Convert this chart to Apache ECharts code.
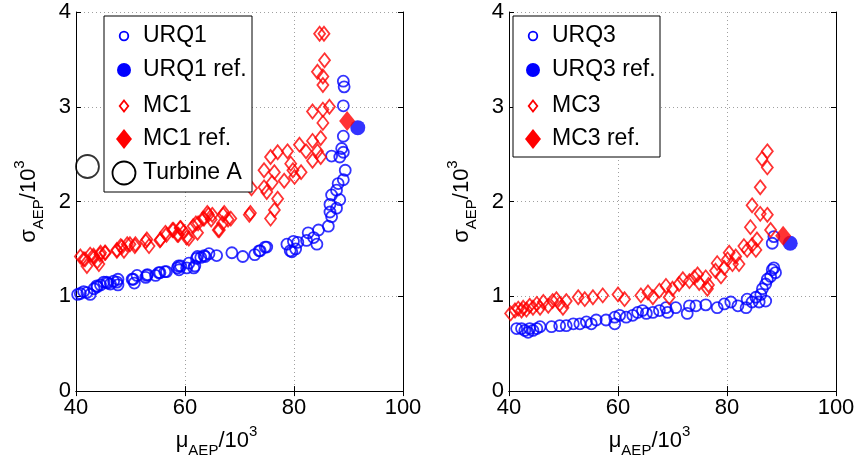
<!DOCTYPE html>
<html>
<head>
<meta charset="utf-8">
<script src="https://cdn.jsdelivr.net/npm/echarts@6/dist/echarts.min.js"></script>
<style>
  html, body { margin: 0; padding: 0; background: #fff; }
  #chart { width: 859px; height: 463px; }
</style>
</head>
<body>
<div id="chart"></div>
<script>
// tick values
var xTicks = [40, 60, 80, 100];
var yTicks = [0, 1, 2, 3, 4];

// left panel: [mu_AEP/10^3, sigma_AEP/10^3]
var urq1 = [
  [40.3, 1.02], [40.8, 1.03], [41.4, 1.05], [42.0, 1.04], [42.6, 1.02], [43.3, 1.08], [43.8, 1.11],
  [43.9, 1.10], [44.5, 1.12], [45.1, 1.15], [45.6, 1.15], [45.8, 1.14], [46.3, 1.13], [46.9, 1.16],
  [47.5, 1.15], [47.7, 1.18], [47.7, 1.12], [50.3, 1.18], [50.5, 1.18], [50.7, 1.14], [51.2, 1.22],
  [52.8, 1.20], [53.0, 1.22], [53.1, 1.23], [54.6, 1.22], [55.2, 1.25], [55.4, 1.25], [56.3, 1.26],
  [56.6, 1.26], [58.6, 1.30], [58.8, 1.32], [58.9, 1.28], [59.2, 1.32], [60.3, 1.30], [60.7, 1.35],
  [61.6, 1.30], [61.8, 1.32], [62.1, 1.40], [62.3, 1.42], [62.9, 1.41], [63.5, 1.43], [63.7, 1.42],
  [64.4, 1.45], [65.8, 1.43], [68.6, 1.46], [70.6, 1.42], [72.8, 1.44], [73.6, 1.48], [73.8, 1.48],
  [74.7, 1.52], [75.0, 1.52], [78.7, 1.55], [79.3, 1.48], [79.6, 1.47], [79.9, 1.58], [80.3, 1.50],
  [80.7, 1.57], [82.3, 1.59], [82.6, 1.67], [83.6, 1.62], [84.2, 1.55], [84.5, 1.70], [86.3, 1.74],
  [86.6, 1.89], [86.9, 1.84], [86.6, 1.97], [87.8, 1.93], [86.9, 2.07], [88.4, 2.02], [87.8, 2.12],
  [88.1, 2.19], [89.05, 2.23], [89.4, 2.33], [86.9, 2.48], [88.4, 2.47], [88.75, 2.56], [89.05, 2.52],
  [89.05, 2.69], [89.05, 3.01], [89.2, 3.21], [89.05, 3.27]
];
var urq1Ref = [[91.7, 2.78]];
var mc1 = [
  [40.8, 1.42], [41.4, 1.39], [41.65, 1.39], [42.0, 1.32], [42.6, 1.44], [43.2, 1.43], [43.3, 1.41],
  [43.9, 1.37], [44.4, 1.44], [44.5, 1.46], [45.3, 1.46], [44.2, 1.34], [45.4, 1.46], [47.5, 1.48],
  [47.5, 1.49], [48.2, 1.53], [48.4, 1.52], [48.8, 1.48], [49.4, 1.55], [49.9, 1.55], [50.8, 1.53],
  [50.9, 1.55], [52.8, 1.58], [53.0, 1.60], [53.4, 1.53], [55.4, 1.59], [55.5, 1.60], [56.4, 1.67],
  [56.6, 1.65], [57.7, 1.70], [57.9, 1.70], [58.6, 1.65], [58.8, 1.65], [59.1, 1.72], [59.2, 1.72],
  [59.8, 1.68], [60.3, 1.62], [60.7, 1.61], [61.5, 1.74], [62.0, 1.77], [62.3, 1.67], [62.4, 1.77],
  [63.3, 1.82], [63.5, 1.82], [64.1, 1.88], [64.3, 1.86], [64.8, 1.81], [65.0, 1.86], [66.1, 1.70],
  [66.3, 1.70], [66.9, 1.77], [67.0, 1.86], [67.2, 1.88], [67.9, 1.81], [68.4, 1.82], [71.8, 1.86],
  [72.0, 1.88], [72.2, 2.14], [74.5, 2.15], [74.5, 2.33], [75.0, 2.10], [75.7, 1.82], [76.4, 1.91],
  [77.0, 2.03], [75.7, 2.47], [77.0, 2.52], [76.4, 2.31], [76.0, 2.20], [78.2, 2.22], [78.8, 2.53],
  [79.4, 2.40], [79.8, 2.33], [80.1, 2.26], [81.0, 2.60], [81.3, 2.31], [82.2, 2.53], [83.4, 2.64],
  [83.4, 2.43], [84.3, 2.53], [84.9, 2.47], [84.9, 2.67], [83.4, 2.95], [85.3, 2.97], [85.3, 2.83],
  [86.5, 3.00], [85.3, 3.23], [84.3, 3.37], [85.3, 3.32], [85.6, 3.49], [84.7, 3.77], [85.5, 3.77]
];
var mc1Ref = [[89.75, 2.85]];
var turbineA = [[42.1, 2.37]];

// right panel
var urq3 = [
  [41.4, 0.66], [42.3, 0.66], [42.9, 0.64], [43.5, 0.62], [43.8, 0.66], [44.4, 0.64], [45.1, 0.66],
  [45.7, 0.68], [47.8, 0.68], [49.3, 0.69], [50.5, 0.69], [51.8, 0.71], [53.0, 0.71], [54.2, 0.73],
  [55.1, 0.71], [56.0, 0.75], [57.8, 0.75], [59.4, 0.78], [59.4, 0.71], [60.3, 0.80], [61.5, 0.78],
  [62.7, 0.80], [63.6, 0.83], [64.5, 0.85], [65.2, 0.82], [66.4, 0.83], [67.6, 0.85], [68.8, 0.88],
  [69.1, 0.83], [70.6, 0.88], [72.7, 0.82], [73.1, 0.90], [74.3, 0.90], [76.1, 0.91], [78.2, 0.88],
  [79.5, 0.92], [80.7, 0.94], [82.0, 0.90], [83.5, 0.88], [83.7, 0.97], [84.6, 0.94], [85.3, 0.99],
  [85.9, 0.94], [87.1, 0.95], [86.2, 1.02], [86.5, 1.08], [87.1, 1.13], [87.4, 1.18], [88.0, 1.21],
  [88.3, 1.28], [88.6, 1.30], [88.9, 1.25], [88.3, 1.56], [88.6, 1.63]
];
var urq3Ref = [[91.6, 1.56]];
var mc3 = [
  [40.3, 0.82], [41.1, 0.85], [41.7, 0.87], [42.3, 0.85], [42.6, 0.88], [43.2, 0.86], [43.8, 0.90],
  [44.4, 0.88], [45.1, 0.92], [45.7, 0.88], [46.3, 0.94], [47.2, 0.90], [48.0, 0.95], [48.7, 0.97],
  [49.3, 0.92], [49.9, 0.88], [50.5, 0.95], [52.7, 0.99], [53.9, 0.97], [55.4, 0.99], [57.2, 1.01],
  [60.0, 1.02], [61.2, 0.97], [64.2, 1.01], [65.5, 1.04], [66.4, 0.99], [67.6, 1.06], [68.8, 1.11],
  [69.4, 0.99], [70.0, 1.08], [71.2, 1.13], [71.9, 1.18], [73.1, 1.16], [74.0, 1.20], [74.6, 1.23],
  [74.9, 1.14], [76.1, 1.20], [76.4, 1.08], [76.6, 1.12], [77.9, 1.27], [78.2, 1.35], [78.9, 1.21],
  [79.5, 1.30], [80.1, 1.39], [80.4, 1.46], [81.0, 1.34], [81.6, 1.42], [82.2, 1.34], [83.1, 1.53],
  [83.7, 1.49], [84.3, 1.73], [84.6, 1.54], [85.3, 1.49], [85.5, 1.60], [84.6, 1.96], [86.1, 1.87],
  [87.4, 1.86], [88.0, 1.70], [86.1, 2.15], [86.4, 2.45], [87.4, 2.36], [87.4, 2.53]
];
var mc3Ref = [[90.3, 1.64]];

var BLUE = '#0000ff', RED = '#ff0000';
var FONT = 'Liberation Sans, Arial, Helvetica, sans-serif';

var titleRich = {
  a: { fontSize: 22, fontFamily: FONT, color: '#000', lineHeight: 34, verticalAlign: 'middle' },
  b: { fontSize: 15, fontFamily: FONT, color: '#000', lineHeight: 34, verticalAlign: 'bottom' },
  c: { fontSize: 15, fontFamily: FONT, color: '#000', lineHeight: 34, verticalAlign: 'top' }
};

function xAx(grid, top) {
  return {
    type: 'value', gridIndex: grid, position: top ? 'top' : 'bottom',
    min: xTicks[0], max: xTicks[xTicks.length - 1], interval: 20,
    axisLine: { show: true, lineStyle: { color: '#000', width: 1 } },
    axisTick: { show: true, inside: true, length: 5, lineStyle: { color: '#000' } },
    axisLabel: { show: !top, fontSize: 22, color: '#000', fontFamily: FONT, margin: 6 },
    splitLine: { show: !top, lineStyle: { color: '#a0a0a0', type: [1, 3], width: 1 } },
    name: top ? '' : '{a|μ}{b|AEP}{a|/10}{c|3}',
    nameLocation: 'middle', nameGap: 29,
    nameTextStyle: { padding: [0, 46, 0, 0], rich: titleRich }
  };
}
function yAx(grid, right) {
  return {
    type: 'value', gridIndex: grid, position: right ? 'right' : 'left',
    min: yTicks[0], max: yTicks[yTicks.length - 1], interval: 1,
    axisLine: { show: true, lineStyle: { color: '#000', width: 1 } },
    axisTick: { show: true, inside: true, length: 5, lineStyle: { color: '#000' } },
    axisLabel: { show: !right, fontSize: 22, color: '#000', fontFamily: FONT, margin: 5 },
    splitLine: { show: !right, lineStyle: { color: '#a0a0a0', type: [1, 3], width: 1 } },
    name: right ? '' : '{a|σ}{b|AEP}{a|/10}{c|3}',
    nameLocation: 'middle', nameGap: 30, nameRotate: 90,
    nameTextStyle: { rich: titleRich }
  };
}

function openSeries(name, data, g, symbol, size, color) {
  return {
    name: name, type: 'scatter', xAxisIndex: g * 2, yAxisIndex: g * 2, data: data,
    symbol: symbol, symbolSize: size,
    itemStyle: { color: 'rgba(0,0,0,0)', borderColor: color, borderWidth: 1.8 }
  };
}
function filledSeries(name, data, g, symbol, size, color) {
  return {
    name: name, type: 'scatter', xAxisIndex: g * 2, yAxisIndex: g * 2, data: data,
    symbol: symbol, symbolSize: size, z: 5,
    itemStyle: { color: color }
  };
}

// legend boxes drawn as graphics
function legendBox(x, y, w, h, mx, tx, rows) {
  var els = [{
    type: 'rect', shape: { x: x, y: y, width: w, height: h },
    style: { fill: '#fff', stroke: '#000', lineWidth: 1 }, z: 100
  }];
  rows.forEach(function (r) {
    var m;
    if (r.shape === 'circle') {
      m = { type: 'circle', shape: { cx: mx, cy: r.y, r: r.r },
        style: r.fill ? { fill: r.color } : { fill: 'none', stroke: r.color, lineWidth: 1.8 }, z: 101 };
    } else {
      m = { type: 'polygon', shape: { points: [[mx, r.y - r.h], [mx + r.w, r.y], [mx, r.y + r.h], [mx - r.w, r.y]] },
        style: r.fill ? { fill: r.color } : { fill: 'none', stroke: r.color, lineWidth: 1.8 }, z: 101 };
    }
    els.push(m);
    els.push({ type: 'text', x: tx, y: r.y, z: 101,
      style: { text: r.text, font: '23px ' + FONT, fill: '#000', verticalAlign: 'middle', align: 'left' } });
  });
  return els;
}

var graphics = legendBox(104, 16, 148, 176, 124, 143, [
  { text: 'URQ1', shape: 'circle', r: 4.3, color: BLUE, y: 36 },
  { text: 'URQ1 ref.', shape: 'circle', r: 7, color: BLUE, fill: true, y: 70 },
  { text: 'MC1', shape: 'diamond', w: 4.3, h: 5.5, color: RED, y: 106 },
  { text: 'MC1 ref.', shape: 'diamond', w: 8, h: 10, color: RED, fill: true, y: 139 },
  { text: 'Turbine A', shape: 'circle', r: 11.5, color: '#000', y: 173 }
]).concat(legendBox(513, 16, 147, 141, 533, 552, [
  { text: 'URQ3', shape: 'circle', r: 4.3, color: BLUE, y: 36 },
  { text: 'URQ3 ref.', shape: 'circle', r: 7, color: BLUE, fill: true, y: 70 },
  { text: 'MC3', shape: 'diamond', w: 4.3, h: 5.5, color: RED, y: 106 },
  { text: 'MC3 ref.', shape: 'diamond', w: 8, h: 10, color: RED, fill: true, y: 139 }
]));

var chart = echarts.init(document.getElementById('chart'), null, { renderer: 'canvas' });
chart.setOption({
  animation: false,
  backgroundColor: '#fff',
  grid: [
    { left: 76, top: 12, width: 327, height: 385 },
    { left: 509, top: 12, width: 327, height: 385 }
  ],
  xAxis: [xAx(0, false), xAx(0, true), xAx(1, false), xAx(1, true)],
  yAxis: [yAx(0, false), yAx(0, true), yAx(1, false), yAx(1, true)],
  series: [
    openSeries('URQ1', urq1, 0, 'circle', 11, BLUE),
    openSeries('MC1', mc1, 0, 'diamond', [11, 14], RED),
    openSeries('Turbine A', turbineA, 0, 'circle', 23, '#000'),
    filledSeries('URQ1 ref.', urq1Ref, 0, 'circle', 15, BLUE),
    filledSeries('MC1 ref.', mc1Ref, 0, 'diamond', [16, 20], RED),
    openSeries('URQ3', urq3, 1, 'circle', 11, BLUE),
    openSeries('MC3', mc3, 1, 'diamond', [11, 14], RED),
    filledSeries('URQ3 ref.', urq3Ref, 1, 'circle', 15, BLUE),
    filledSeries('MC3 ref.', mc3Ref, 1, 'diamond', [16, 20], RED)
  ],
  graphic: graphics
});
</script>
</body>
</html>
